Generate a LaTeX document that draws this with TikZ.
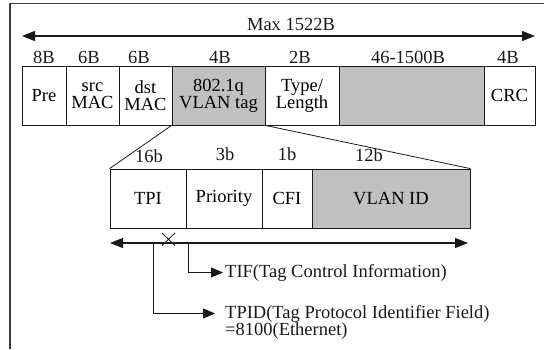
\documentclass[tikz,border=0pt]{standalone}
\usepackage{fontspec}
\setmainfont{Liberation Serif}
\usetikzlibrary{arrows.meta}
\definecolor{shade}{RGB}{192,192,192}
\definecolor{ink}{RGB}{25,25,25}
\definecolor{framec}{RGB}{60,60,60}
\newcommand{\tf}{\fontsize{18.5}{17}\selectfont}
\begin{document}
\begin{tikzpicture}[x=1pt,y=-1pt,
  fld/.style={draw=ink, line width=0.8pt, inner sep=0pt, align=center, font=\tf, minimum height=59pt},
  grayfld/.style={fld, fill=shade},
  lbl/.style={inner sep=0pt, anchor=base, font=\tf, text=ink},
  note/.style={inner sep=0pt, anchor=base west, font=\tf, text=ink},
  darr/.style={draw=ink, line width=1.1pt, {Triangle[length=13pt,width=10pt]}-{Triangle[length=13pt,width=10pt]}},
  arr/.style={draw=ink, line width=0.8pt, -{Triangle[length=12pt,width=10pt]}},
  thin/.style={draw=ink, line width=0.8pt}]
\useasboundingbox (0,0) rectangle (544,349);
% frame
\draw[framec, line width=1.4pt] (544,3.5) -- (10,3.5) -- (10,349);
% top header
\node[lbl] (max) at (291,30) {Max 1522B};
\coordinate (mL) at (22,36);
\coordinate (mR) at (535,36);
\draw[darr] (mL) -- (mR);
% size labels
\node[lbl] (s1) at (44,63) {8B};
\node[lbl] (s2) at (89,63) {6B};
\node[lbl] (s3) at (139,63) {6B};
\node[lbl] (s4) at (220,63) {4B};
\node[lbl] (s5) at (300,63) {2B};
\node[lbl] (s6) at (408,63) {46-1500B};
\node[lbl] (s7) at (508,63) {4B};
% top fields
\node[fld, minimum width=44pt] (pre) at (44,95.5) {Pre};
\node[fld, minimum width=53pt] (src) at (92.5,95.5) {src\\MAC};
\node[fld, minimum width=53pt] (dst) at (145.5,95.5) {dst\\MAC};
\node[grayfld, minimum width=93pt] (tag) at (218.5,95.5) {802.1q\\VLAN tag};
\node[fld, minimum width=74pt] (typ) at (302,95.5) {Type/\\Length};
\node[grayfld, minimum width=145pt] (data) at (411.5,95.5) {};
\node[fld, minimum width=51pt] (crc) at (509.5,95.5) {CRC};
% lower fields
\node[fld, minimum width=76pt] (tpi) at (148,198.5) {TPI};
\node[fld, minimum width=76pt] (pri) at (224,198.5) {Priority};
\node[fld, minimum width=50pt] (cfi) at (287,198.5) {CFI};
\node[grayfld, minimum width=158pt] (vid) at (391,198.5) {VLAN ID};
% zoom lines
\draw[thin] (tag.south west) -- (tpi.north west);
\draw[thin] (tag.south east) -- (vid.north east);
% bit labels
\node[lbl] (b1) at (149,162) {16b};
\node[lbl] (b2) at (225,160) {3b};
\node[lbl] (b3) at (287,160) {1b};
\node[lbl] (b4) at (369,161) {12b};
% bottom arrow
\coordinate (aL) at (110,243);
\coordinate (aR) at (468,243);
\draw[darr] (aL) -- (aR);
% cross mark
\draw[thin] (162,233) -- (175,245.5);
\draw[thin] (162,245.5) -- (175,233);
% annotations
\coordinate (c1) at (153,243);
\coordinate (c2) at (188,243);
\node[note] (tif) at (225,277) {TIF(Tag Control Information)};
\node[note] (tpid) at (225,318) {TPID(Tag Protocol Identifier Field)};
\node[note] (eth) at (225,335) {=8100(Ethernet)};
\draw[arr] (c2) |- ([xshift=-2pt]tif.west);
\draw[arr] (c1) |- ([xshift=-10pt]tpid.west);
\end{tikzpicture}
\end{document}
